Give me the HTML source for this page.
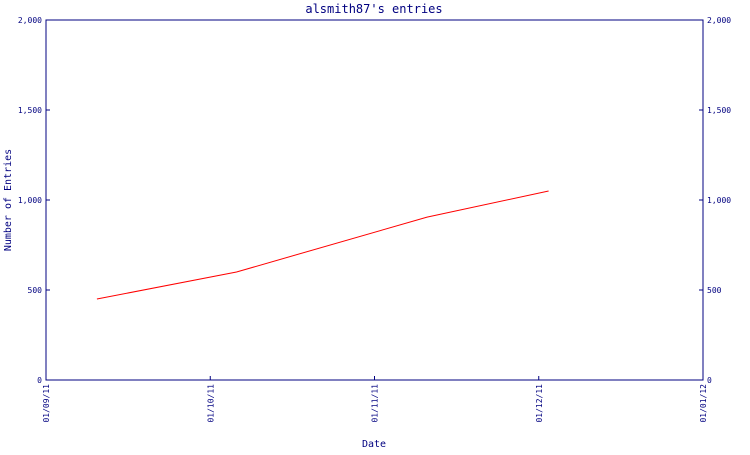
<!DOCTYPE html>
<html><head><meta charset="utf-8"><style>
body{margin:0;background:#fff}
svg text{font-family:"DejaVu Sans Mono","Liberation Mono",monospace;fill:#000080}
</style></head><body>
<svg width="750" height="450" xmlns="http://www.w3.org/2000/svg">
<text x="374" y="13" text-anchor="middle" font-size="12">alsmith87's entries</text>
<rect x="46" y="20" width="657" height="360" fill="none" stroke="#000080" stroke-width="1"/>
<g id="ticks"></g>
<polyline id="line" fill="none" stroke="#ff0000" stroke-width="1"/>
<text x="0" y="0" transform="translate(11,200) rotate(-90)" text-anchor="middle" font-size="10">Number of Entries</text>
<text x="374" y="447" text-anchor="middle" font-size="10">Date</text>
</svg>
<script>
const xTickLabels = ["01/09/11","01/10/11","01/11/11","01/12/11","01/01/12"];
const yTickValues = [0,500,1000,1500,2000];
const yTickLabels = ["0","500","1,000","1,500","2,000"];
const pointMonths = [0.31,1.16,2.32,3.06];
const entryValues = [450,600,905,1050];
const X0=46,X1=703,Y0=380,Y1=20;
function xs(m){return X0+(X1-X0)*m/4;}
function ys(v){return Y0-(Y0-Y1)*v/2000;}
const NS="http://www.w3.org/2000/svg";
const g=document.getElementById('ticks');
function mk(tag,attrs){const e=document.createElementNS(NS,tag);for(const k in attrs)e.setAttribute(k,attrs[k]);return e;}
yTickValues.forEach((v,i)=>{
  const y=ys(v);
  const l=mk('line',{x1:X0,x2:X0+4,y1:y,y2:y,stroke:'#000080'});
  
  
  g.appendChild(l);
  const r=mk('line',{x1:X1-4,x2:X1,y1:y,y2:y,stroke:'#000080'});
  
  
  g.appendChild(r);
  const t=mk('text',{x:X0-4,y:y+3,'text-anchor':'end','font-size':'8'});
  t.textContent=yTickLabels[i];
  
  
  g.appendChild(t);
  const t2=mk('text',{x:X1+4,y:y+3,'font-size':'8'});
  t2.textContent=yTickLabels[i];
  
  
  g.appendChild(t2);
});
xTickLabels.forEach((s,i)=>{
  const x=xs(i);
  const l=mk('line',{x1:x,x2:x,y1:Y0,y2:Y0-4,stroke:'#000080'});
  
  
  g.appendChild(l);
  const t=mk('text',{x:0,y:0,transform:`translate(${x+3},${Y0+4}) rotate(-90)`,'text-anchor':'end','font-size':'8'});
  t.textContent=s;
  
  
  g.appendChild(t);
});
document.getElementById('line').setAttribute('points',pointMonths.map((m,i)=>xs(m)+','+ys(entryValues[i])).join(' '));
</script>
</body></html>
